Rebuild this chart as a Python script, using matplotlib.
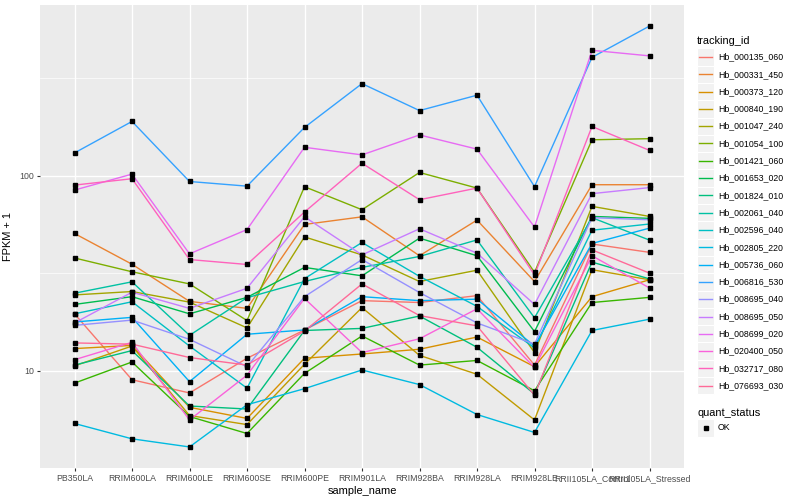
import numpy as np
import matplotlib
matplotlib.use('Agg')
import matplotlib.pyplot as plt
from matplotlib.ticker import FixedLocator, NullFormatter
from matplotlib.patches import Rectangle
from matplotlib.lines import Line2D

# ---------------------------------------------------------------------------
# Data (FPKM + 1)
# ---------------------------------------------------------------------------

samples = ['PB350LA', 'RRIM600LA', 'RRIM600LE', 'RRIM600SE', 'RRIM600PE',
           'RRIM901LA', 'RRIM928BA', 'RRIM928LA', 'RRIM928LE',
           'RRII105LA_Control', 'RRII105LA_Stressed']

tracking_ids = ['Hb_000135_060', 'Hb_000331_450', 'Hb_000373_120', 'Hb_000840_190',
                'Hb_001047_240', 'Hb_001054_100', 'Hb_001421_060', 'Hb_001653_020',
                'Hb_001824_010', 'Hb_002061_040', 'Hb_002596_040', 'Hb_002805_220',
                'Hb_005736_060', 'Hb_006816_530', 'Hb_008695_040', 'Hb_008695_050',
                'Hb_008699_020', 'Hb_020400_050', 'Hb_032717_080', 'Hb_076693_030']

hb_000135_060 = [19.6, 9.0, 7.7, 11.6, 16.2, 22.9, 22.4, 24.3, 10.7, 44.7, 40.5]
hb_000331_450 = [50.6, 35.2, 22.7, 20.9, 56.3, 61.6, 38.9, 59.3, 28.7, 90.0, 90.0]
hb_000373_120 = [13.0, 13.5, 6.5, 5.7, 11.6, 12.2, 12.9, 14.9, 10.5, 24.0, 29.3]
hb_000840_190 = [10.6, 13.4, 5.9, 5.3, 10.8, 21.1, 12.0, 9.6, 5.6, 33.0, 29.3]
hb_001047_240 = [24.5, 25.5, 22.5, 16.6, 48.6, 39.3, 28.7, 32.8, 12.4, 69.7, 61.9]
hb_001054_100 = [37.9, 32.2, 27.9, 18.1, 87.9, 67.0, 104.0, 86.5, 32.0, 153.0, 155.0]
hb_001421_060 = [8.65, 11.1, 5.83, 4.77, 9.7, 15.1, 10.7, 11.3, 7.9, 22.4, 23.8]
hb_001653_020 = [21.9, 24.0, 19.6, 23.8, 33.9, 30.7, 47.9, 38.9, 15.9, 61.9, 60.5]
hb_001824_010 = [10.7, 12.7, 6.6, 6.37, 16.1, 16.5, 19.1, 13.2, 7.6, 36.1, 29.6]
hb_002061_040 = [25.0, 28.6, 15.2, 23.7, 28.7, 33.9, 38.6, 46.9, 18.7, 61.0, 46.8]
hb_002596_040 = [19.6, 22.6, 13.4, 8.15, 29.7, 45.5, 30.5, 21.4, 13.1, 52.6, 56.6]
hb_002805_220 = [5.37, 4.48, 4.07, 6.7, 8.1, 10.1, 8.5, 5.97, 4.83, 16.1, 18.4]
hb_005736_060 = [17.8, 18.8, 8.8, 15.4, 16.2, 24.0, 22.9, 23.3, 13.4, 45.0, 53.9]
hb_006816_530 = [131.0, 190.0, 93.5, 88.5, 177.0, 297.0, 216.0, 259.0, 88.0, 405.0, 586.0]
hb_008695_040 = [17.1, 18.2, 14.5, 10.5, 24.0, 37.2, 25.2, 17.6, 13.7, 61.0, 59.5]
hb_008695_050 = [17.6, 25.3, 20.9, 26.5, 61.6, 39.3, 53.5, 40.1, 21.9, 81.0, 87.0]
hb_008699_020 = [84.5, 102.0, 39.8, 53.0, 140.0, 128.0, 162.0, 137.0, 54.6, 440.0, 412.0]
hb_020400_050 = [11.4, 14.0, 5.6, 9.5, 23.5, 12.4, 14.6, 20.8, 10.4, 38.9, 26.6]
hb_032717_080 = [89.6, 96.6, 37.2, 35.1, 65.2, 116.0, 75.4, 86.5, 31.0, 179.0, 135.0]
hb_076693_030 = [13.9, 13.7, 11.7, 10.7, 16.0, 27.9, 19.2, 17.0, 7.5, 41.7, 31.7]

series = [hb_000135_060, hb_000331_450, hb_000373_120, hb_000840_190,
          hb_001047_240, hb_001054_100, hb_001421_060, hb_001653_020,
          hb_001824_010, hb_002061_040, hb_002596_040, hb_002805_220,
          hb_005736_060, hb_006816_530, hb_008695_040, hb_008695_050,
          hb_008699_020, hb_020400_050, hb_032717_080, hb_076693_030]

quant_status = ['OK']


# ---------------------------------------------------------------------------
# Helpers
# ---------------------------------------------------------------------------

def hue_pal(n, c=100.0, l=65.0):
    """ggplot2 default discrete palette (polar LUV -> sRGB)."""
    hues = np.linspace(15, 375, n + 1)[:-1]
    xn, yn, zn = 0.95047, 1.0, 1.08883
    un = 4 * xn / (xn + 15 * yn + 3 * zn)
    vn = 9 * yn / (xn + 15 * yn + 3 * zn)
    out = []
    for h in hues:
        u = c * np.cos(np.radians(h))
        v = c * np.sin(np.radians(h))
        Y = yn * ((l + 16) / 116) ** 3
        up = u / (13 * l) + un
        vp = v / (13 * l) + vn
        X = 9 * Y * up / (4 * vp)
        Z = Y * (12 - 3 * up - 20 * vp) / (4 * vp)
        rgb = np.array([
            3.2404542 * X - 1.5371385 * Y - 0.4985314 * Z,
            -0.9692660 * X + 1.8760108 * Y + 0.0415560 * Z,
            0.0556434 * X - 0.2040259 * Y + 1.0572252 * Z,
        ])
        rgb = np.where(rgb <= 0.0031308, 12.92 * rgb,
                       1.055 * np.abs(rgb) ** (1 / 2.4) - 0.055)
        out.append(tuple(np.clip(rgb, 0, 1)))
    return out


def px(x, y):
    """Pixel coords (800x500, origin top-left) -> figure fraction."""
    return x / 800.0, 1 - y / 500.0


# ---------------------------------------------------------------------------
# Plot
# ---------------------------------------------------------------------------

plt.rcParams['font.family'] = ['Liberation Sans', 'DejaVu Sans']

colors = hue_pal(len(tracking_ids))
xpos = np.arange(len(samples))

fig = plt.figure(figsize=(8, 5), dpi=100)
ax = fig.add_axes([40 / 800, 1 - 468 / 500, 644 / 800, 463 / 500])
ax.set_facecolor('#EBEBEB')
for s in ax.spines.values():
    s.set_visible(False)

for vals, col in zip(series, colors):
    ax.plot(xpos, vals, color=col, linewidth=1.0, zorder=3)
for vals in series:
    ax.plot(xpos, vals, 's', color='black', markersize=2.4, zorder=4)

ax.set_yscale('log')
allv = np.log10(np.concatenate([np.asarray(v) for v in series]))
lo, hi = allv.min(), allv.max()
pad = (hi - lo) * 0.05
ax.set_ylim(10 ** (lo - pad), 10 ** (hi + pad))
ax.set_xlim(-0.6, len(samples) - 0.4)

ax.yaxis.set_major_locator(FixedLocator([10, 100]))
ax.set_yticklabels(['10', '100'])
ax.yaxis.set_minor_locator(FixedLocator([10 ** 0.5, 10 ** 1.5, 10 ** 2.5]))
ax.yaxis.set_minor_formatter(NullFormatter())
ax.set_xticks(xpos)
ax.set_xticklabels(samples)

ax.grid(which='major', color='white', linewidth=1.0, zorder=0)
ax.grid(which='minor', axis='y', color='white', linewidth=0.5, zorder=0)
ax.set_axisbelow(True)
ax.tick_params(which='major', length=2.5, width=0.8, color='#333333',
               labelsize=6.3, labelcolor='#4D4D4D', pad=2)
ax.tick_params(which='minor', length=0)

ax.set_xlabel('sample_name', fontsize=7.9, labelpad=2)
ax.set_ylabel('FPKM + 1', fontsize=7.9, labelpad=4)

# ---- Legend (drawn by hand, ggplot style) ----
fig.text(*px(697, 41), 'tracking_id', fontsize=7.9, va='center', ha='left')
key = 17.3
for i, (tid, col) in enumerate(zip(tracking_ids, colors)):
    yc = 57 + i * key
    x0, y0 = px(697, yc + key / 2)
    fig.patches.append(Rectangle((x0, y0), key / 800, key / 500,
                                 transform=fig.transFigure, facecolor='#F2F2F2',
                                 edgecolor='white', linewidth=0.8))
    lx0, ly = px(699, yc)
    lx1, _ = px(712, yc)
    fig.lines.append(Line2D([lx0, lx1], [ly, ly], transform=fig.transFigure,
                            color=col, linewidth=1.0))
    fig.text(*px(718, yc), tid, fontsize=6.3, va='center', ha='left')

fig.text(*px(697, 413), 'quant_status', fontsize=7.9, va='center', ha='left')
for i, q in enumerate(quant_status):
    yc = 428 + i * key
    x0, y0 = px(697, yc + key / 2)
    fig.patches.append(Rectangle((x0, y0), key / 800, key / 500,
                                 transform=fig.transFigure, facecolor='#F2F2F2',
                                 edgecolor='white', linewidth=0.8))
    mx, my = px(705.5, yc)
    fig.lines.append(Line2D([mx], [my], transform=fig.transFigure, marker='s',
                            color='black', markersize=2.4, linestyle='none'))
    fig.text(*px(718, yc), q, fontsize=6.3, va='center', ha='left')

fig.savefig('out.png', dpi=100)
plt.close(fig)
